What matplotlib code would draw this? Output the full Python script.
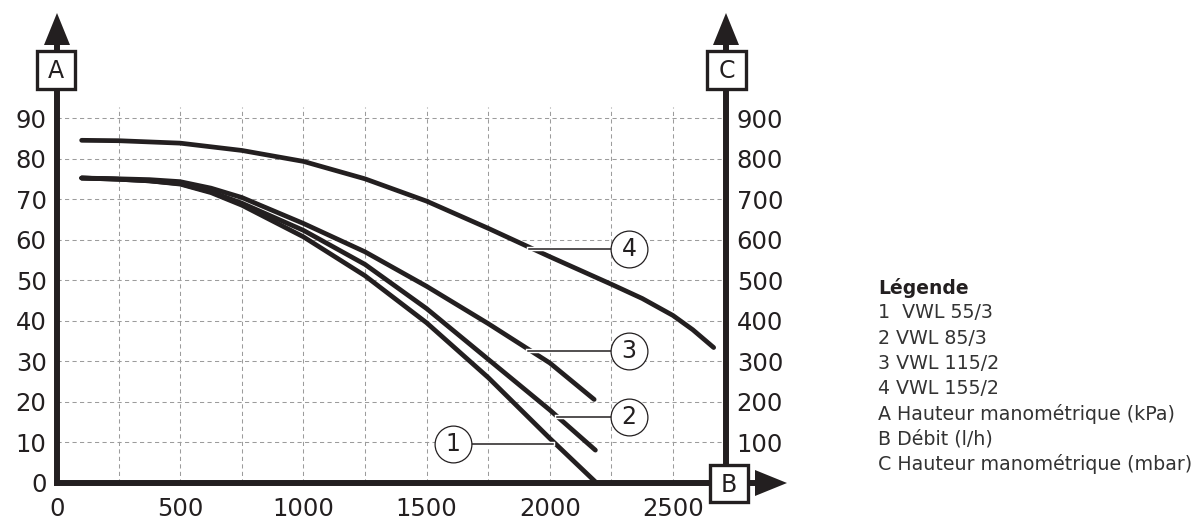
import numpy as np
import matplotlib.pyplot as plt
import matplotlib.transforms as mtransforms
import matplotlib.patheffects as pe
from matplotlib.patches import Rectangle, Polygon
from matplotlib.lines import Line2D

plt.rcParams['font.family'] = ['DejaVu Sans']

# pump curves: flow (l/h) vs available head (kPa)
flow_1 = [100, 250, 375, 500, 625, 750, 1000, 1250, 1500, 1750, 2000, 2190]
head_1 = [75.2, 74.9, 74.5, 73.7, 71.6, 68.5, 60.7, 51.1, 39.5, 26.0, 11.0, 0.0]
flow_2 = [100, 250, 375, 500, 625, 750, 1000, 1250, 1500, 1750, 2000, 2185]
head_2 = [75.2, 74.9, 74.5, 73.8, 71.8, 69.0, 62.3, 53.9, 43.0, 30.5, 18.0, 8.1]
flow_3 = [100, 250, 375, 500, 625, 750, 1000, 1250, 1500, 1750, 2000, 2180]
head_3 = [75.2, 75.0, 74.8, 74.3, 72.7, 70.4, 64.0, 57.0, 48.5, 39.3, 29.6, 20.6]
flow_4 = [100, 250, 500, 750, 1000, 1250, 1500, 1750, 2000, 2250, 2375, 2500, 2580, 2665]
head_4 = [84.5, 84.4, 83.8, 82.0, 79.3, 75.0, 69.5, 62.8, 55.8, 49.0, 45.5, 41.3, 37.8, 33.4]

# numbered callouts
callout_text = ['1', '2', '3', '4']
callout_x = [1606, 2322, 2322, 2322]
callout_y = [9.6, 16.2, 32.6, 57.7]
anchor_x = [2011, 2031, 1910, 1917]

x_ticks = [0, 500, 1000, 1500, 2000, 2500]
kpa_ticks = [0, 10, 20, 30, 40, 50, 60, 70, 80, 90]
mbar_ticks = [100, 200, 300, 400, 500, 600, 700, 800, 900]

legend_title = 'Légende'
legend_lines = ['1  VWL 55/3', '2 VWL 85/3', '3 VWL 115/2', '4 VWL 155/2',
                'A Hauteur manométrique (kPa)', 'B Débit (l/h)',
                'C Hauteur manométrique (mbar)']

INK = '#231f20'
W, H = 1200, 521

fig = plt.figure(figsize=(12, 5.21), dpi=100)
# pixel transform (origin top-left) for the hand-drawn axis decorations
T = mtransforms.Affine2D().scale(1 / W, -1 / H).translate(0, 1) + fig.transFigure

ax = fig.add_axes([57 / W, 1 - 483 / H, (726 - 57) / W, (483 - 118) / H])
ax.set_xlim(0, 2715)
ax.set_ylim(0, 90)
for s in ax.spines.values():
    s.set_visible(False)
ax.set_xticks(x_ticks)
ax.set_yticks(kpa_ticks)
ax.tick_params(axis='both', length=0, labelsize=17.5, colors=INK)
ax.tick_params(axis='x', pad=10)
ax.tick_params(axis='y', pad=7.5)

ax2 = ax.twinx()
ax2.set_ylim(0, 900)
ax2.set_yticks(mbar_ticks)
ax2.tick_params(axis='y', length=0, labelsize=17.5, pad=7.7, colors=INK)
for s in ax2.spines.values():
    s.set_visible(False)
ax2.patch.set_visible(False)

# dashed grid
ax.vlines(np.arange(250, 2501, 250), 0, 92.7, colors='#9c9c9c',
          linestyles=(0, (4.0, 3.2)), lw=0.75, zorder=1, clip_on=False)
ax.hlines(kpa_ticks[1:], 0, 2715, colors='#9c9c9c',
          linestyles=(0, (4.0, 3.2)), lw=0.75, zorder=1, clip_on=False)

for fx, hy in [(flow_1, head_1), (flow_2, head_2), (flow_3, head_3), (flow_4, head_4)]:
    ax.plot(fx, hy, color=INK, lw=3.4, solid_joinstyle='round',
            solid_capstyle='round', zorder=3, clip_on=False)

for t, cx, cy, axx in zip(callout_text, callout_x, callout_y, anchor_x):
    ax.plot([axx, cx], [cy, cy], color=INK, lw=1.1, zorder=4, clip_on=False,
            path_effects=[pe.Stroke(linewidth=3.2, foreground='white'), pe.Normal()])
    ax.plot(cx, cy, 'o', ms=26.5, mfc='white', mec=INK, mew=0.9, zorder=5, clip_on=False)
    ax.text(cx, cy, t, ha='center', va='center', fontsize=17, color=INK, zorder=6)

# axes with arrows and letter boxes
def line(xs, ys):
    fig.add_artist(Line2D(xs, ys, transform=T, lw=4.3, color=INK,
                          solid_capstyle='butt', zorder=5))

def arrow(pts):
    fig.add_artist(Polygon(pts, closed=True, transform=T, fc=INK, ec='none', zorder=5))

def box(x0, y0, w, h, letter):
    fig.add_artist(Rectangle((x0, y0), w, h, transform=T, fc='white', ec=INK,
                             lw=2.4, zorder=10))
    fig.text(x0 + w / 2, y0 + h / 2 + 1, letter, transform=T, ha='center',
             va='center', fontsize=17, color=INK, zorder=11)

line([57, 57], [486, 44])
line([54, 757], [483, 483])
line([726, 726], [466, 44])
arrow([[44, 45], [70, 45], [57, 13]])
arrow([[713, 45], [739, 45], [726, 13]])
arrow([[755, 470], [755, 496], [787, 483]])
box(37, 51, 38, 38, 'A')
box(707, 51, 39, 38, 'C')
box(710, 465, 38, 37, 'B')

# legend block
fig.text(878 / W, 1 - 288 / H, legend_title, fontsize=13.5, fontweight='bold',
         color=INK, va='center')
for i, s in enumerate(legend_lines):
    fig.text(878 / W, 1 - (313 + 25.2 * i) / H, s, fontsize=13.7, color='#333333',
             va='center')

fig.savefig('out.png', dpi=100)
